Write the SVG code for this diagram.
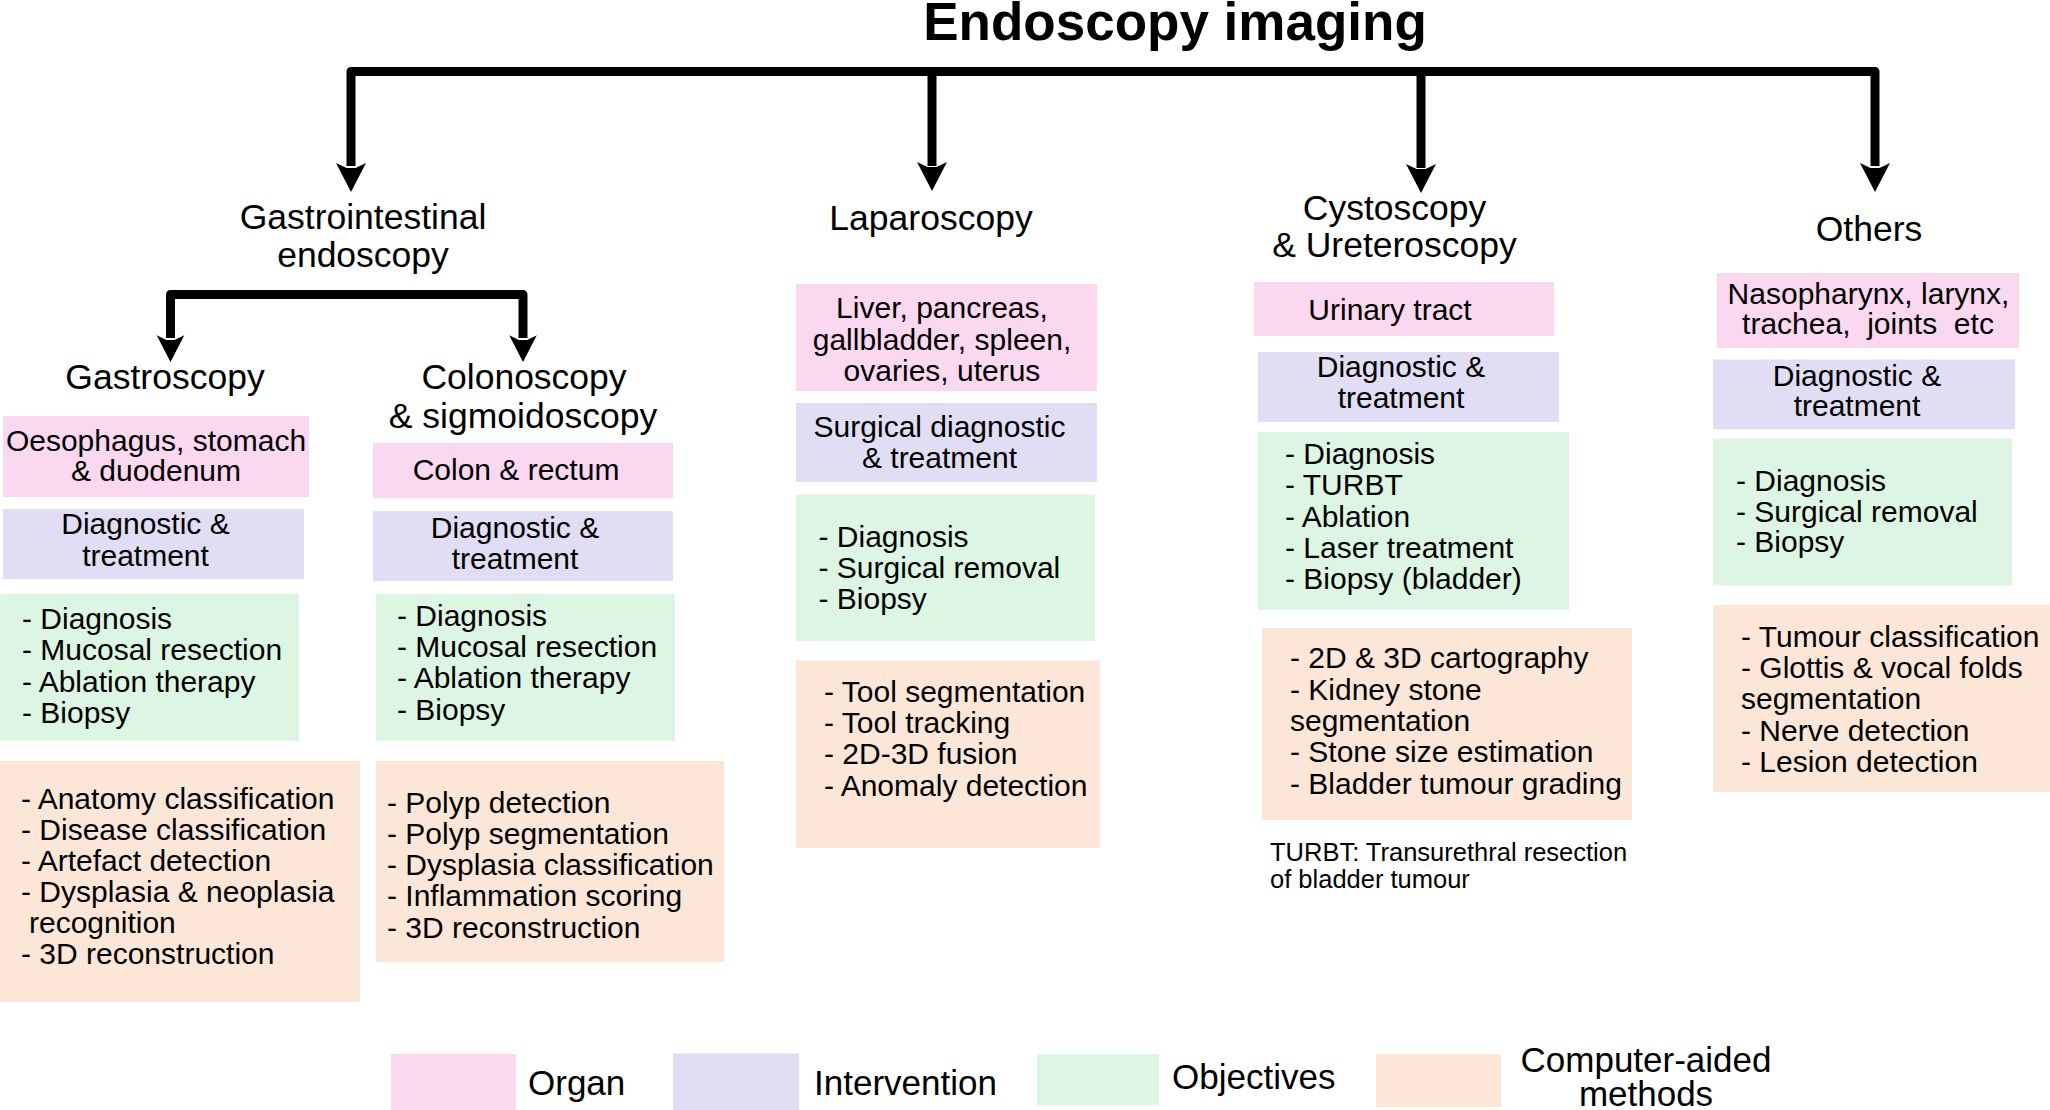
<svg xmlns="http://www.w3.org/2000/svg" xmlns:xlink="http://www.w3.org/1999/xlink" width="2050" height="1110" viewBox="0 0 2050 1110">
<style>
text{font-family:"Liberation Sans",Arial,Helvetica,sans-serif;fill:#000}
.title{font-size:53px;font-weight:bold;text-anchor:middle}
.h{font-size:35.5px;text-anchor:middle}
.c{font-size:30px;text-anchor:middle}
.l{font-size:30px}
.note{font-size:25.5px}
.lg{font-size:35px}
.org{fill:#fad8ef}
.int{fill:#e1ddf4}
.obj{fill:#ddf5e3}
.cam{fill:#fce6d8}
.ln{fill:none;stroke:#000;stroke-width:9;stroke-linejoin:round}
</style>
<defs>
<path id="ah" d="M0,0 L-15,-29 L-4.5,-24 L4.5,-24 L15,-29 Z" fill="#000"/>
</defs>
<rect width="2050" height="1110" fill="#fff"/>
<text class="title" x="1175" y="40">Endoscopy imaging</text>

<g id="connectors">
<path class="ln" d="M351,166 V71.5 H1875 V166"/>
<path class="ln" d="M932,71.5 V166"/>
<path class="ln" d="M1421,71.5 V168"/>
<use xlink:href="#ah" href="#ah" transform="translate(351,192)"/>
<use xlink:href="#ah" href="#ah" transform="translate(932,191)"/>
<use xlink:href="#ah" href="#ah" transform="translate(1421,193)"/>
<use xlink:href="#ah" href="#ah" transform="translate(1875,192)"/>
<path class="ln" d="M170.5,338 V294.5 H523 V338"/>
<use xlink:href="#ah" href="#ah" transform="translate(170.5,362) scale(0.92)"/>
<use xlink:href="#ah" href="#ah" transform="translate(523,362) scale(0.92)"/>
</g>

<g id="gi">
<text class="h" x="363" y="228.5">Gastrointestinal</text>
<text class="h" x="363" y="266.5">endoscopy</text>
</g>
<g id="laparoscopy">
<text class="h" x="931" y="230">Laparoscopy</text>
</g>
<g id="cystoscopy">
<text class="h" x="1394.5" y="219.5">Cystoscopy</text>
<text class="h" x="1394.5" y="257">&amp; Ureteroscopy</text>
</g>
<g id="others">
<text class="h" x="1869" y="241">Others</text>
</g>
<g id="gastroscopy">
<text class="h" x="165" y="389">Gastroscopy</text>
</g>
<g id="colonoscopy">
<text class="h" x="524" y="389">Colonoscopy</text>
<text class="h" x="523" y="427.5">&amp; sigmoidoscopy</text>
</g>

<g id="gastro-organ">
<rect class="org" x="3" y="416" width="306" height="81"/>
<text class="c" x="156" y="450.5">Oesophagus, stomach</text>
<text class="c" x="156" y="481">&amp; duodenum</text>
</g>
<g id="gastro-intervention">
<rect class="int" x="3" y="509" width="301" height="70"/>
<text class="c" x="145.5" y="534">Diagnostic &amp;</text>
<text class="c" x="145.5" y="566">treatment</text>
</g>
<g id="gastro-objectives">
<rect class="obj" x="0" y="594" width="299" height="147"/>
<text class="l" x="22" y="628.5">- Diagnosis</text>
<text class="l" x="22" y="660">- Mucosal resection</text>
<text class="l" x="22" y="691.5">- Ablation therapy</text>
<text class="l" x="22" y="723">- Biopsy</text>
</g>
<g id="gastro-methods">
<rect class="cam" x="0" y="761" width="360" height="241"/>
<text class="l" x="21" y="809">- Anatomy classification</text>
<text class="l" x="21" y="840">- Disease classification</text>
<text class="l" x="21" y="871">- Artefact detection</text>
<text class="l" x="21" y="902">- Dysplasia &amp; neoplasia</text>
<text class="l" x="29" y="933">recognition</text>
<text class="l" x="21" y="964">- 3D reconstruction</text>
</g>

<g id="colono-organ">
<rect class="org" x="373" y="443" width="300" height="55"/>
<text class="c" x="516" y="480">Colon &amp; rectum</text>
</g>
<g id="colono-intervention">
<rect class="int" x="373" y="511" width="300" height="70"/>
<text class="c" x="515" y="537.5">Diagnostic &amp;</text>
<text class="c" x="515" y="569">treatment</text>
</g>
<g id="colono-objectives">
<rect class="obj" x="376" y="594" width="299" height="147"/>
<text class="l" x="397" y="626">- Diagnosis</text>
<text class="l" x="397" y="657">- Mucosal resection</text>
<text class="l" x="397" y="688">- Ablation therapy</text>
<text class="l" x="397" y="719.5">- Biopsy</text>
</g>
<g id="colono-methods">
<rect class="cam" x="376" y="761" width="348" height="201"/>
<text class="l" x="387" y="812.5">- Polyp detection</text>
<text class="l" x="387" y="843.5">- Polyp segmentation</text>
<text class="l" x="387" y="875">- Dysplasia classification</text>
<text class="l" x="387" y="906">- Inflammation scoring</text>
<text class="l" x="387" y="937.5">- 3D reconstruction</text>
</g>

<g id="lap-organ">
<rect class="org" x="796" y="284" width="301" height="107"/>
<text class="c" x="942" y="318">Liver, pancreas,</text>
<text class="c" x="942" y="349.5">gallbladder, spleen,</text>
<text class="c" x="942" y="381">ovaries, uterus</text>
</g>
<g id="lap-intervention">
<rect class="int" x="796" y="403" width="301" height="79"/>
<text class="c" x="939.5" y="437">Surgical diagnostic</text>
<text class="c" x="939.5" y="468">&amp; treatment</text>
</g>
<g id="lap-objectives">
<rect class="obj" x="796" y="494.5" width="299" height="146.5"/>
<text class="l" x="818.5" y="546.5">- Diagnosis</text>
<text class="l" x="818.5" y="577.5">- Surgical removal</text>
<text class="l" x="818.5" y="608.5">- Biopsy</text>
</g>
<g id="lap-methods">
<rect class="cam" x="796" y="660.5" width="304" height="187.5"/>
<text class="l" x="824" y="702">- Tool segmentation</text>
<text class="l" x="824" y="733">- Tool tracking</text>
<text class="l" x="824" y="764">- 2D-3D fusion</text>
<text class="l" x="824" y="795.5">- Anomaly detection</text>
</g>

<g id="cysto-organ">
<rect class="org" x="1254" y="282" width="300" height="54"/>
<text class="c" x="1390" y="319.5">Urinary tract</text>
</g>
<g id="cysto-intervention">
<rect class="int" x="1258" y="352" width="301" height="70"/>
<text class="c" x="1401" y="377">Diagnostic &amp;</text>
<text class="c" x="1401" y="407.5">treatment</text>
</g>
<g id="cysto-objectives">
<rect class="obj" x="1258" y="432" width="311" height="178"/>
<text class="l" x="1285" y="464">- Diagnosis</text>
<text class="l" x="1285" y="495">- TURBT</text>
<text class="l" x="1285" y="526.5">- Ablation</text>
<text class="l" x="1285" y="557.5">- Laser treatment</text>
<text class="l" x="1285" y="589">- Biopsy (bladder)</text>
</g>
<g id="cysto-methods">
<rect class="cam" x="1262" y="628" width="370" height="192"/>
<text class="l" x="1290" y="668">- 2D &amp; 3D cartography</text>
<text class="l" x="1290" y="699.5">- Kidney stone</text>
<text class="l" x="1290" y="730.5">segmentation</text>
<text class="l" x="1290" y="762">- Stone size estimation</text>
<text class="l" x="1290" y="793.5">- Bladder tumour grading</text>
</g>
<g id="cysto-note">
<text class="note" x="1270" y="861">TURBT: Transurethral resection</text>
<text class="note" x="1270" y="888">of bladder tumour</text>
</g>

<g id="others-organ">
<rect class="org" x="1717" y="273" width="302" height="75"/>
<text class="c" x="1868.5" y="303.5">Nasopharynx, larynx,</text>
<text class="c" x="1868" y="334" xml:space="preserve" style="white-space:pre">trachea,  joints  etc</text>
</g>
<g id="others-intervention">
<rect class="int" x="1713" y="359.5" width="302" height="70"/>
<text class="c" x="1857" y="386">Diagnostic &amp;</text>
<text class="c" x="1857" y="416">treatment</text>
</g>
<g id="others-objectives">
<rect class="obj" x="1713" y="438.5" width="299" height="147"/>
<text class="l" x="1736" y="491">- Diagnosis</text>
<text class="l" x="1736" y="521.5">- Surgical removal</text>
<text class="l" x="1736" y="552">- Biopsy</text>
</g>
<g id="others-methods">
<rect class="cam" x="1713" y="605" width="337" height="187"/>
<text class="l" x="1741" y="646.5">- Tumour classification</text>
<text class="l" x="1741" y="678">- Glottis &amp; vocal folds</text>
<text class="l" x="1741" y="709">segmentation</text>
<text class="l" x="1741" y="740.5">- Nerve detection</text>
<text class="l" x="1741" y="771.5">- Lesion detection</text>
</g>

<g id="legend">
<rect class="org" x="391" y="1054" width="125" height="56"/>
<text class="lg" x="528" y="1094.5">Organ</text>
<rect class="int" x="673" y="1053.5" width="126" height="56.5"/>
<text class="lg" x="814" y="1094.5">Intervention</text>
<rect class="obj" x="1037" y="1054" width="122" height="51.5"/>
<text class="lg" x="1172" y="1089">Objectives</text>
<rect class="cam" x="1376" y="1054" width="125" height="53"/>
<text class="lg" x="1646" y="1071.5" text-anchor="middle">Computer-aided</text>
<text class="lg" x="1646" y="1106" text-anchor="middle">methods</text>
</g>
</svg>
